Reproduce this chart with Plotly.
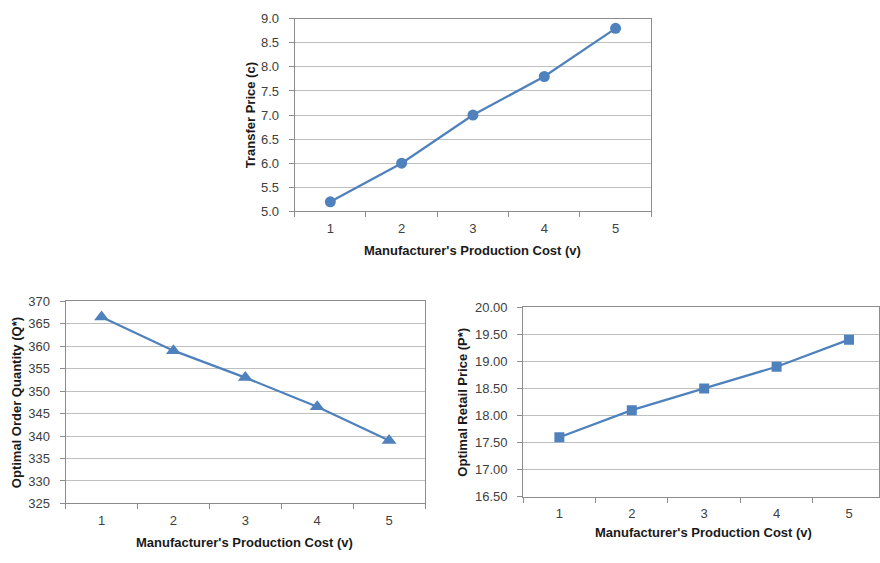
import plotly.graph_objects as go

cost = ["1", "2", "3", "4", "5"]
transfer_price = [5.2, 6.0, 7.0, 7.8, 8.8]
order_quantity = [366.5, 359.0, 353.0, 346.5, 339.0]
retail_price = [17.6, 18.1, 18.5, 18.9, 19.4]

x_title = "Manufacturer's Production Cost (v)"
y_titles = ["Transfer Price (c)", "Optimal Order Quantity (Q*)", "Optimal Retail Price (P*)"]

BLUE = "#4F81BD"
AXIS = "#8C8C8C"
GRID = "#BFBFBF"
TXT = "#404040"
FONT = "Liberation Sans"

W, H = 880, 563

def px_x(v):
    return v / W

def px_y(v):
    return 1 - v / H

fig = go.Figure()
fig.add_trace(go.Scatter(x=cost, y=transfer_price, mode="lines+markers",
                         line=dict(color=BLUE, width=2.25),
                         marker=dict(symbol="circle", size=11, color=BLUE),
                         xaxis="x", yaxis="y", showlegend=False, hoverinfo="skip"))
fig.add_trace(go.Scatter(x=cost, y=order_quantity, mode="lines+markers",
                         line=dict(color=BLUE, width=2.25),
                         marker=dict(symbol="triangle-up", size=13, color=BLUE),
                         xaxis="x2", yaxis="y2", showlegend=False, hoverinfo="skip"))
fig.add_trace(go.Scatter(x=cost, y=retail_price, mode="lines+markers",
                         line=dict(color=BLUE, width=2.25),
                         marker=dict(symbol="square", size=10, color=BLUE),
                         xaxis="x3", yaxis="y3", showlegend=False, hoverinfo="skip"))

def xax(domain, anchor, rng):
    return dict(domain=domain, anchor=anchor, type="category", range=rng,
                tickson="boundaries", ticks="outside", ticklen=5, tickcolor=AXIS,
                showgrid=False, showline=True, linecolor=AXIS, linewidth=1, mirror=True,
                ticklabelstandoff=5,
                tickfont=dict(family=FONT, size=13, color=TXT), fixedrange=True)

def yax(domain, anchor, rng, dtick, fmt, mirror=True):
    return dict(domain=domain, anchor=anchor, range=rng, dtick=dtick, tick0=rng[0],
                tickformat=fmt, ticks="outside", ticklen=5, tickcolor=AXIS,
                showgrid=True, gridcolor=GRID, gridwidth=1, zeroline=False,
                showline=True, linecolor=AXIS, linewidth=1, mirror=mirror,
                ticklabelstandoff=7,
                tickfont=dict(family=FONT, size=13, color=TXT), fixedrange=True)

top_x = [px_x(295), px_x(652)]
top_y = [px_y(210), px_y(12)]
bl_x = [px_x(65.7), px_x(425.5)]
bl_y = [px_y(510), px_y(302.3)]
br_x = [px_x(523.75), 1.0]
br_y = [px_y(503.3), px_y(308.3)]

fig.update_layout(
    width=W, height=H,
    margin=dict(l=0, r=0, t=0, b=0),
    paper_bgcolor="white", plot_bgcolor="white",
    hovermode=False,
    xaxis=xax(top_x, "y", [-0.5, 4.5]),
    yaxis=yax(top_y, "x", [5.0, 9.0], 0.5, ".1f"),
    xaxis2=xax(bl_x, "y2", [-0.5, 4.5]),
    yaxis2=yax(bl_y, "x2", [325, 370], 5, "d"),
    xaxis3=xax(br_x, "y3", [-0.5, 4.414]),
    yaxis3=yax(br_y, "x3", [16.5, 20.0], 0.5, ".2f"),
)

title_font = dict(family=FONT, size=13, color="#1A1A1A")
annotations = [
    # x-axis titles
    dict(text="<b>" + x_title + "</b>", x=px_x(473), y=px_y(250), xref="paper", yref="paper",
         showarrow=False, font=title_font, xanchor="center", yanchor="middle"),
    dict(text="<b>" + x_title + "</b>", x=px_x(245), y=px_y(550), xref="paper", yref="paper",
         showarrow=False, font=title_font, xanchor="center", yanchor="middle"),
    dict(text="<b>" + x_title + "</b>", x=px_x(704), y=px_y(540), xref="paper", yref="paper",
         showarrow=False, font=title_font, xanchor="center", yanchor="middle"),
    # y-axis titles
    dict(text="<b>" + y_titles[0] + "</b>", x=px_x(250.5), y=px_y(111), xref="paper", yref="paper",
         showarrow=False, font=title_font, textangle=-90, xanchor="center", yanchor="middle"),
    dict(text="<b>" + y_titles[1] + "</b>", x=px_x(16), y=px_y(406), xref="paper", yref="paper",
         showarrow=False, font=title_font, textangle=-90, xanchor="center", yanchor="middle"),
    dict(text="<b>" + y_titles[2] + "</b>", x=px_x(463), y=px_y(406), xref="paper", yref="paper",
         showarrow=False, font=title_font, textangle=-90, xanchor="center", yanchor="middle"),
]
fig.update_layout(annotations=annotations)

fig.write_html("out.html",
               config={"displayModeBar": False, "staticPlot": True},
               post_script="document.body.style.margin='0';document.body.style.padding='0';document.body.style.overflow='hidden';")
